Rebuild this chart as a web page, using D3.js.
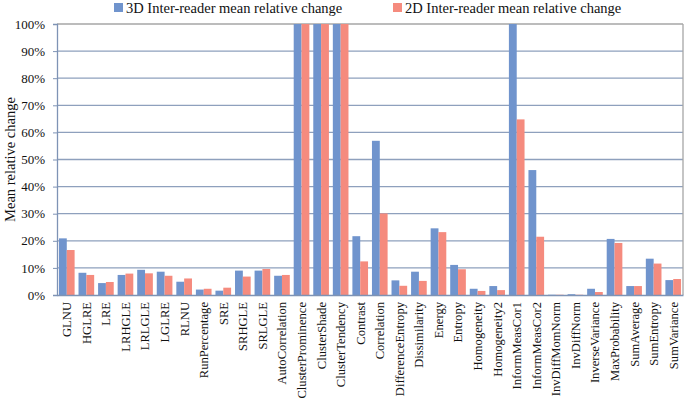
<!DOCTYPE html>
<html><head><meta charset="utf-8">
<script src="https://cdn.jsdelivr.net/npm/d3@7"></script>
<style>body{margin:0;background:#fff}svg{display:block}</style>
</head><body>
<script>
const categories = ["GLNU","HGLRE","LRE","LRHGLE","LRLGLE","LGLRE","RLNU","RunPercentage","SRE","SRHGLE","SRLGLE","AutoCorrelation","ClusterProminence","ClusterShade","ClusterTendency","Contrast","Correlation","DifferenceEntropy","Dissimilarity","Energy","Entropy","Homogeneity","Homogeneity2","InformMeasCor1","InformMeasCor2","InvDiffMomNorm","InvDiffNorm","InverseVariance","MaxProbability","SumAverage","SumEntropy","SumVariance"];
const series3D = [20.9,8.2,4.4,7.4,9.3,8.6,4.9,2.0,1.6,9.0,9.0,7.1,100,100,100,21.7,56.9,5.4,8.6,24.6,11.1,2.3,3.3,100,46.1,0.1,0.3,2.3,20.7,3.3,13.4,5.5];
const series2D = [16.6,7.4,4.8,7.9,8.0,7.1,6.1,2.3,2.7,6.8,9.6,7.4,100,100,100,12.4,30.1,3.4,5.2,23.2,9.5,1.5,1.8,64.8,21.5,0.1,0.1,1.1,19.2,3.3,11.6,5.9];
const seriesNames = ["3D Inter-reader mean relative change","2D Inter-reader mean relative change"];
const yTicks = [0,10,20,30,40,50,60,70,80,90,100];

const W=685,H=401;
const m={l:57,r:2,t:24,b:106};
const colors=["#7094cd","#f58b7e"];
const font="'Liberation Serif', 'DejaVu Serif', serif";
const svg=d3.select("body").append("svg").attr("width",W).attr("height",H).style("font-family",font);
const x=d3.scaleBand().domain(categories).range([m.l,W-m.r]).paddingInner(0.2).paddingOuter(0.1);
const xs=d3.scaleBand().domain([0,1]).range([0,x.bandwidth()]);
const y=d3.scaleLinear().domain([0,100]).range([H-m.b,m.t]);

// gridlines
svg.append("g").selectAll("line").data(yTicks.slice(1)).join("line")
 .attr("x1",m.l).attr("x2",W-m.r).attr("y1",d=>y(d)).attr("y2",d=>y(d))
 .attr("stroke",d=>d===100?"#a6a6a6":"#8ea0bd").attr("stroke-width",1.3);
svg.append("line").attr("x1",W-m.r).attr("x2",W-m.r).attr("y1",m.t).attr("y2",y(0)).attr("stroke","#a6a6a6").attr("stroke-width",1.3);

// bars
const data=categories.map((c,i)=>({c,v:[series3D[i],series2D[i]]}));
const g=svg.append("g").selectAll("g").data(data).join("g").attr("transform",d=>`translate(${x(d.c)},0)`);
g.selectAll("rect").data(d=>d.v.map((v,k)=>({v,k}))).join("rect")
 .attr("x",d=>xs(d.k)).attr("width",xs.bandwidth())
 .attr("y",d=>y(d.v)).attr("height",d=>y(0)-y(d.v))
 .attr("fill",d=>colors[d.k]);

// axes
const ya=svg.append("g").attr("transform",`translate(${m.l},0)`)
 .call(d3.axisLeft(y).tickValues(yTicks).tickFormat(d=>d+"%").tickSize(4));
ya.select(".domain").attr("stroke","#7e93b5").attr("stroke-width",1.3);
ya.selectAll(".tick line").attr("stroke","#7e93b5");
ya.selectAll("text").attr("font-family",font).attr("font-size",13).attr("fill","#111").attr("x",-12);

const xa=svg.append("g").attr("transform",`translate(0,${y(0)})`)
 .call(d3.axisBottom(x).tickSize(0));
xa.select(".domain").attr("stroke","#7e93b5").attr("stroke-width",1.3);
xa.selectAll("text").attr("font-family",font).attr("font-size",12.6).attr("fill","#111")
 .attr("transform","rotate(-90)").attr("text-anchor","end").attr("x",-7).attr("y",0).attr("dy","0.35em");

// y title
svg.append("text").attr("transform",`translate(10,${(m.t+y(0))/2}) rotate(-90)`)
 .attr("text-anchor","middle").attr("dy","0.35em").attr("font-size",14.5).attr("fill","#111").text("Mean relative change");

// legend
const lg=svg.append("g");
const lx=[114,393];
seriesNames.forEach((n,i)=>{
  lg.append("rect").attr("x",lx[i]).attr("y",3).attr("width",9).attr("height",9).attr("fill",colors[i]);
  lg.append("text").attr("x",lx[i]+12).attr("y",13).attr("font-size",14.5).attr("fill","#111").text(n);
});
</script>
</body></html>
